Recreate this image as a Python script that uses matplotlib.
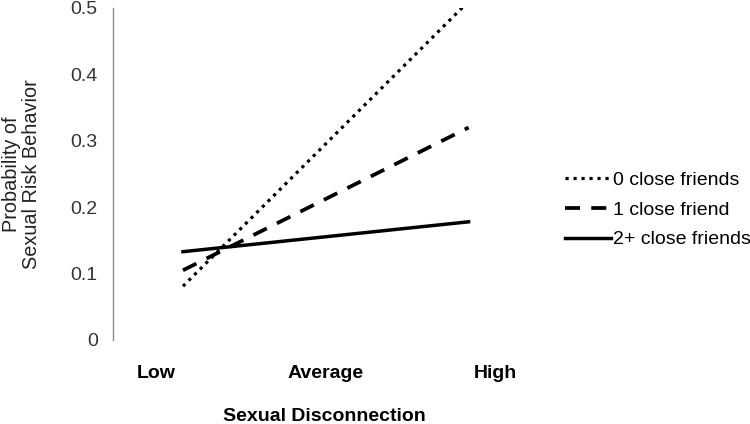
import matplotlib
matplotlib.use('Agg')
import matplotlib.pyplot as plt

plt.rcParams['font.family'] = ['Liberation Sans', 'DejaVu Sans']

# Data: predicted probabilities at low (-1 SD) and high (+1 SD) sexual disconnection
x_points = [-1, 1]
series_labels = ['0 close friends', '1 close friend', '2+ close friends']
friends0 = [0.081, 0.51]
friends1 = [0.105, 0.320]
friends2 = [0.133, 0.178]
x_tick_pos = [-1.19, 0, 1.19]
x_tick_labels = ['Low', 'Average', 'High']
y_ticks = [0, 0.1, 0.2, 0.3, 0.4, 0.5]

fig = plt.figure(figsize=(7.5, 4.24), dpi=100)
ax = fig.add_axes([113/750, 1 - 340/424, 427/750, 332/424])

ax.plot(x_points, friends0, color='black', lw=2.3, linestyle=(0, (1, 1.5)),
        label=series_labels[0])
ax.plot(x_points, friends1, color='black', lw=2.7, linestyle=(0, (4, 3)),
        label=series_labels[1])
ax.plot(x_points, friends2, color='black', lw=2.5, linestyle='-',
        label=series_labels[2])

ax.set_xlim(-1.49, 1.5)
ax.set_ylim(0, 0.5)
ax.set_yticks(y_ticks)
ax.set_yticklabels(['0' if v == 0 else f'{v:.1f}' for v in y_ticks])
ax.set_xticks(x_tick_pos)
ax.set_xticklabels(x_tick_labels, fontweight='bold', fontsize=14)

for s in ['top', 'right', 'bottom']:
    ax.spines[s].set_visible(False)
ax.spines['left'].set_color('#8c8c8c')
ax.spines['left'].set_linewidth(1.0)

ax.tick_params(axis='y', length=0, pad=11, labelsize=14, labelcolor='#333333')
ax.tick_params(axis='x', length=0, pad=18)

ax.set_xlabel('Sexual Disconnection', fontweight='bold', fontsize=14)
ax.xaxis.set_label_coords(0.496, -0.205)
ax.set_ylabel('Probability of\nSexual Risk Behavior', fontsize=14.3, color='#222222',
              linespacing=1.1)
ax.yaxis.set_label_coords(-0.168, 0.5)

ax.legend(loc='center left', bbox_to_anchor=(1.058, 0.392), frameon=False,
          fontsize=14, handlelength=2.4, handletextpad=0.1, labelspacing=0.62,
          borderaxespad=0, borderpad=0)

fig.savefig('out.png', dpi=100)
